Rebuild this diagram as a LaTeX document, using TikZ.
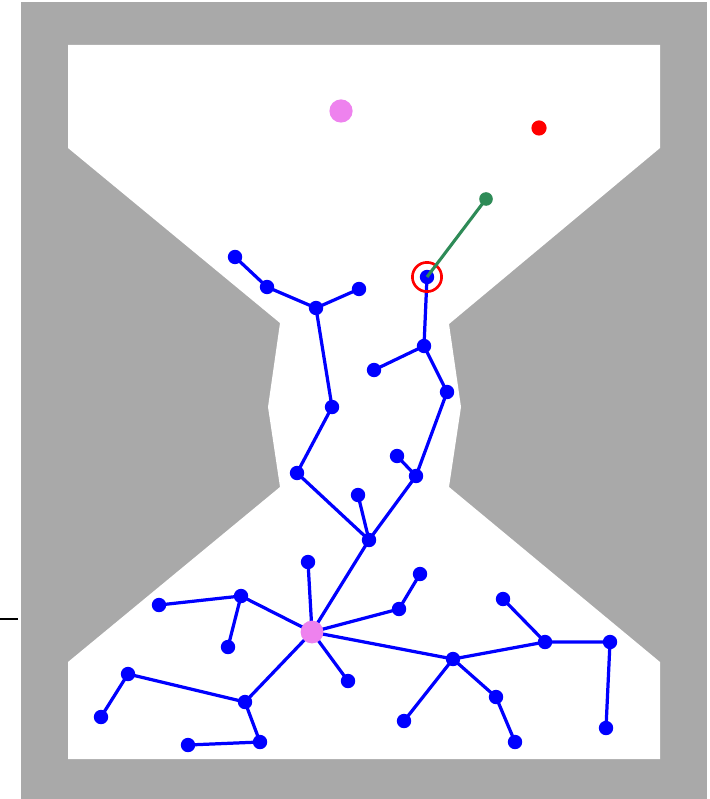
\documentclass[tikz,border=0pt]{standalone}
\usepackage{xcolor}
\usepackage{tikz}
\usetikzlibrary{backgrounds}
\definecolor{wall}{HTML}{A9A9A9}
\definecolor{rootpink}{HTML}{EE82EE}
\definecolor{treeblue}{HTML}{0000FF}
\definecolor{samplegreen}{HTML}{2E8B57}
\definecolor{goalred}{HTML}{FF0000}
\pgfdeclarelayer{edges}
\pgfsetlayers{background,edges,main}
\tikzset{
  vertex/.style={circle, fill=treeblue, inner sep=0pt, minimum size=0.36cm},
  rootvertex/.style={circle, fill=rootpink, inner sep=0pt, minimum size=0.57cm},
  startvertex/.style={circle, fill=rootpink, inner sep=0pt, minimum size=0.58cm},
  goalvertex/.style={circle, fill=goalred, inner sep=0pt, minimum size=0.38cm},
  samplevertex/.style={circle, fill=samplegreen, inner sep=0pt, minimum size=0.34cm},
  highlight/.style={circle, draw=goalred, line width=1.9pt, inner sep=0pt, minimum size=0.73cm},
  branch/.style={treeblue, line width=2.3pt},
  extend/.style={samplegreen, line width=2.2pt},
}

\begin{document}
\begin{tikzpicture}[x=0.025cm, y=-0.025cm]

  \useasboundingbox (0,0) rectangle (709,799);

  % walls and free space
  \begin{pgfonlayer}{background}
    \fill[wall] (21,2) rectangle (707,799);
    \fill[white] (68,45) -- (660,45) -- (660,148) -- (449,324) -- (461,407)
      -- (449,487) -- (660,662) -- (660,759) -- (68,759) -- (68,662)
      -- (280,487) -- (268,407) -- (280,323) -- (68,148) -- cycle;
    \draw[black, line width=2pt] (0,619) -- (18,619);
  \end{pgfonlayer}

  % start, goal and new sample
  \node[startvertex] (start) at (341,111) {};
  \node[goalvertex] (goal) at (539,128) {};
  \node[samplevertex] (sample) at (486,199) {};

  % tree
  \node[rootvertex] (root) at (312,632) {};
  \node[vertex] (n1) at (235,257) {};
  \node[vertex] (n2) at (267,287) {};
  \node[vertex] (n3) at (316,308) {};
  \node[vertex] (n4) at (359,289) {};
  \node[vertex] (n5) at (332,407) {};
  \node[vertex] (n6) at (297,473) {};
  \node[vertex] (n7) at (369,540) {};
  \node[vertex] (n8) at (358,495) {};
  \node[vertex] (near) at (427,277) {};
  \node[vertex] (n9) at (424,346) {};
  \node[vertex] (n10) at (374,370) {};
  \node[vertex] (n11) at (447,392) {};
  \node[vertex] (n12) at (416,476) {};
  \node[vertex] (n13) at (397,456) {};
  \node[vertex] (n14) at (308,562) {};
  \node[vertex] (n15) at (241,596) {};
  \node[vertex] (n16) at (159,605) {};
  \node[vertex] (n17) at (228,647) {};
  \node[vertex] (n18) at (399,609) {};
  \node[vertex] (n19) at (420,574) {};
  \node[vertex] (n20) at (348,681) {};
  \node[vertex] (n21) at (453,659) {};
  \node[vertex] (n22) at (545,642) {};
  \node[vertex] (n23) at (503,599) {};
  \node[vertex] (n24) at (610,642) {};
  \node[vertex] (n25) at (606,728) {};
  \node[vertex] (n26) at (404,721) {};
  \node[vertex] (n27) at (496,697) {};
  \node[vertex] (n28) at (515,742) {};
  \node[vertex] (n29) at (245,702) {};
  \node[vertex] (n30) at (128,674) {};
  \node[vertex] (n31) at (101,717) {};
  \node[vertex] (n32) at (260,742) {};
  \node[vertex] (n33) at (188,745) {};

  \node[highlight] (ring) at (near) {};

  \begin{pgfonlayer}{edges}
    \draw[branch] (n1.center) -- (n2.center) -- (n3.center) -- (n4.center);
    \draw[branch] (n3.center) -- (n5.center) -- (n6.center) -- (n7.center);
    \draw[branch] (near.center) -- (n9.center) -- (n10.center);
    \draw[branch] (n9.center) -- (n11.center) -- (n12.center) -- (n13.center);
    \draw[branch] (n12.center) -- (n7.center) -- (n8.center);
    \draw[branch] (n7.center) -- (root.center);
    \draw[branch] (root.center) -- (n14.center);
    \draw[branch] (root.center) -- (n15.center) -- (n16.center);
    \draw[branch] (n15.center) -- (n17.center);
    \draw[branch] (root.center) -- (n18.center) -- (n19.center);
    \draw[branch] (root.center) -- (n20.center);
    \draw[branch] (root.center) -- (n21.center) -- (n22.center) -- (n23.center);
    \draw[branch] (n22.center) -- (n24.center) -- (n25.center);
    \draw[branch] (n21.center) -- (n26.center);
    \draw[branch] (n21.center) -- (n27.center) -- (n28.center);
    \draw[branch] (root.center) -- (n29.center) -- (n30.center) -- (n31.center);
    \draw[branch] (n29.center) -- (n32.center) -- (n33.center);
  \end{pgfonlayer}
  \draw[extend] (sample.center) -- (near.center);

\end{tikzpicture}
\end{document}
